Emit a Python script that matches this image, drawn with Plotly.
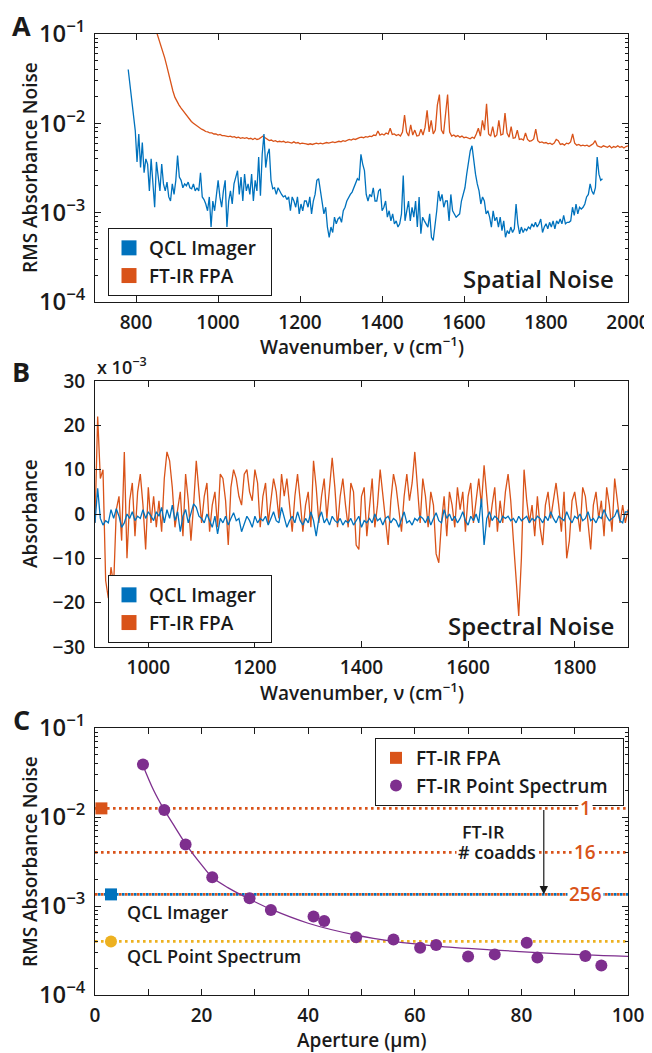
import numpy as np
import plotly.graph_objects as go

# ---------------- DATA ----------------
# Panel A: RMS absorbance noise (values in units of 1e-3)
qcl_spatial_start = 781.0     # cm^-1
qcl_spatial_step = 4.3        # cm^-1
qcl_spatial_noise = [
    40, 27, 16, 11,
    8.3, 3.7, 7.6, 3.2, 6.1, 2.8, 4.0, 3.5, 1.75, 4.0, 2.1, 1.15, 3.7, 2.5, 1.75, 3.5, 2.1, 1.75, 2.2, 1.5,
    1.35, 2.1, 1.6, 2.3, 4.35, 2.5, 2.3, 1.9, 2.1, 2.0, 2.2, 1.9, 1.85, 2.1, 1.75, 1.9, 1.75, 2.8, 1.5, 1.4,
    1.25, 1.05, 1.5, 0.69, 1.35, 1.05, 1.6, 2.3, 1.5, 1.15, 1.75, 2.3, 0.69, 1.35, 1.75, 1.25, 2.1, 2.5, 2.95, 1.6,
    2.5, 1.35, 2.7, 1.75, 2.1, 1.6, 2.7, 1.35, 2.3, 1.75, 4.2, 1.55, 4.5, 7.6, 3.2, 4.5, 5.2, 2.3, 1.85, 1.9,
    1.6, 1.9, 1.7, 1.6, 1.5, 1.55, 1.4, 1.5, 1.05, 1.5, 1.35, 1.15, 1.5, 0.97, 1.25, 1.05, 1.35, 1.35, 1.15, 1.5,
    0.97, 1.35, 1.6, 2.3, 2.4, 1.75, 1.35, 0.97, 1.15, 0.69, 0.53, 0.69, 0.60, 0.89, 0.75, 0.85, 0.89, 0.78, 1.05, 1.15,
    1.35, 1.5, 1.6, 1.7, 1.9, 2.1, 2.4, 2.3, 4.5, 3.5, 2.95, 1.6, 1.35, 1.6, 1.5, 1.9, 1.35, 1.35, 1.75, 1.85,
    1.05, 1.15, 1.35, 0.89, 1.05, 0.81, 0.97, 0.75, 0.81, 0.69, 0.75, 0.97, 2.6, 0.81, 1.05, 1.35, 0.81, 1.15, 0.89, 1.35,
    0.69, 1.5, 0.58, 0.89, 0.81, 0.75, 0.69, 0.97, 0.53, 0.49, 0.69, 1.05, 1.75, 1.35, 1.6, 1.15, 1.35, 1.35, 0.81, 1.6,
    1.05, 0.97, 0.89, 0.93, 0.97, 1.35, 1.6, 1.9, 2.7, 3.8, 4.9, 5.6, 3.8, 2.7, 2.1, 1.75, 1.25, 1.5, 1.35, 0.97,
    1.05, 0.89, 0.69, 1.05, 0.81, 0.89, 0.69, 0.89, 0.63, 0.81, 0.53, 0.63, 0.58, 0.69, 0.60, 0.66, 1.25, 0.75, 0.58, 0.69,
    0.60, 0.66, 0.63, 0.69, 0.66, 0.75, 0.69, 0.78, 0.69, 0.75, 0.85, 0.60, 0.69, 0.75, 0.66, 0.78, 0.69, 0.81, 0.66, 0.81,
    0.75, 0.85, 0.75, 0.93, 0.75, 0.78, 0.78, 0.81, 1.15, 0.93, 1.25, 0.97, 1.15, 1.1, 1.15, 1.25, 1.5, 1.6, 2.1, 1.75,
    1.6, 1.9, 4.2, 2.7, 2.3, 2.4,
]

fpa_spatial_start = 845.0
fpa_spatial_step = 5.0
fpa_spatial_noise = [
    125, 106, 92, 78, 64, 54, 44, 35, 28, 23,
    19.5, 17.5, 16, 14.8, 13.8, 12.8, 12.0, 11.3, 10.5, 10.0,
    9.6, 9.2, 8.9, 8.6, 8.4, 8.1, 8.0, 7.8, 7.8, 7.6,
    7.6, 7.4, 7.5, 7.3, 7.3, 7.2, 7.1, 7.2, 7.0, 7.1,
    6.9, 7.0, 6.8, 6.9, 6.8, 6.9, 6.7, 6.8, 6.6, 6.8,
    6.6, 6.7, 6.9, 7.2, 6.9, 6.6, 6.4, 6.5, 6.3, 6.4,
    6.2, 6.3, 6.2, 6.3, 6.1, 6.2, 6.1, 6.0, 6.2, 6.0,
    6.1, 5.9, 6.0, 6.0, 5.9, 5.8, 5.9, 5.8, 5.9, 6.0,
    5.9, 6.0, 5.9, 6.0, 6.1, 6.0, 6.1, 6.2, 6.1, 6.2,
    6.3, 6.2, 6.4, 6.3, 6.5, 6.6, 6.5, 6.7, 6.6, 6.8,
    6.9, 7.0, 6.9, 7.1, 7.0, 7.2, 7.1, 7.4, 7.3, 8.2,
    7.4, 7.6, 7.4, 7.8, 7.6, 8.8, 7.5, 7.6, 7.3, 7.5,
    7.2, 8.0, 12.4, 8.0, 7.2, 9.6, 7.4, 8.4, 7.2, 7.3,
    8.6, 7.4, 9.0, 14.0, 8.0, 10.8, 7.6, 8.4, 16.0, 21.0,
    8.4, 7.6, 14.0, 21.0, 8.0, 7.2, 7.4, 7.1, 7.3, 7.0,
    7.2, 6.9, 7.0, 6.8, 6.7, 7.0, 6.8, 7.6, 8.8, 7.2,
    10.8, 8.4, 16.5, 7.6, 7.2, 9.2, 7.0, 7.4, 10.8, 7.4,
    7.6, 13.0, 7.8, 7.0, 9.2, 6.8, 6.9, 8.4, 6.6, 6.7,
    6.5, 7.8, 6.6, 6.3, 6.4, 6.7, 8.6, 6.4, 6.1, 6.2,
    6.0, 6.1, 5.9, 6.0, 5.8, 6.0, 6.6, 6.4, 5.8, 5.9,
    5.7, 6.0, 5.9, 6.2, 7.6, 6.0, 5.7, 5.8, 5.6, 5.7,
    5.6, 5.7, 5.5, 5.7, 5.9, 6.4, 5.6, 5.5, 5.4, 5.6,
    5.5, 5.4, 5.6, 5.3, 5.5, 5.4, 5.6, 5.4, 5.5, 5.3,
    5.5, 5.6,
]

# Panel B: absorbance (units of 1e-3), 5 cm^-1 spacing from 900
spectral_start = 900.0
spectral_step = 5.0
qcl_spectral = [
    -2, 5.8, -1, -2.5, -1.5, -2, 1, -1, 1.2, -0.5, -3, -2, 0, -1, 0.5, -1.5, -0.5, -1, 1, -1,
    0.5, -0.5, -1.5, 0.5, -0.5, 1.5, -2, 1, -1, 2, -1.5, 0.5, -4, -0.5, 1, -2, 0.5, 2.3, 1.5, -0.5,
    -1, -2, 0, -1.5, -3, -0.5, -4.5, -1, -2, -0.5, -2.5, -1, 0.3, -1.5, -1, -4, -2, -0.5, -1.5, -3,
    -0.5, -2, -1, -1.5, -0.5, -2.5, -1, 0.5, -1.5, -2, 1.5, -1, -3, -1.5, -0.5, -2, 0.5, -1.5, -2.5, -1,
    -2, 0.5, -1.5, -5, -1, 0.5, -2, -1, -2.5, -0.5, -1.5, -2, -1, -2.5, -1.5, -2, -1, -2.5, -1.5, -0.5,
    -3, -1.5, -2, -1, -2, 0, -1.5, -1, -2.5, -1, -0.5, -2, -1, -1.5, -3, -1, 0.5, -2, -1.5, -2.5,
    -1, -1.5, -0.5, -1, -2, -0.5, -2.5, -1, 0.3, -1.5, -2, 1, -1, 0, -1.5, -0.5, -2, -1, 0.5, -1.5,
    -2.5, -0.5, -1.5, 0, -2, 3.5, -7, -1, 0.5, -1.5, -0.5, -1, -2, -0.5, -1, -0.5, -1.5, -1, -2, -0.5,
    -1.5, -1, -0.5, -2, -1, -1.5, -0.5, -1, -2, -0.5, -1.5, 0.5, -1, -2, -0.5, -1, -1.5, 0.5, -1, -2,
    -0.5, -1, 0, -1.5, -1, 0.5, -1.5, -1, -2, -0.5, -1, 1, -0.5, -1.5, -1, -0.5, 1, -1.5, -2, 0.5,
    0.5,
]
fpa_spectral = [
    -2, 22, 8, 10, -15, -19, -12, -16, 1, 4, -6, 14, -10, 3, 7, -5, 5, 9, 2, -8,
    6, -2, 4, -3, 3, -4, 8, 14, 12, 6, -3, 1, 5, -5, 9, 3, -6, 2, 12, 5,
    -2, 4, 7, -4, 2, 5, -3, 9, 8, 3, -7, 6, 10, 8, 4, 2, 9, 10, 5, 3,
    10, 7, -3, 4, 7, -2, 3, 8, 5, -1, 9, 4, 8, 2, -4, 4, 9, 3, -4, 2,
    5, -3, 12, 6, -2, 4, 8, -1, 5, 12.7, 6, -3, 4, 8, 2, -3, 7, 5, -7, -8,
    4, 6, -5, 2, 8, -3, 2, 10, 4, -2, -7, 3, 9, 6, 1, -4, 4, 9, 3, 7,
    14, 5, -2, 8, 4, -3, 5, 2, -9, -11, -2, 4, -5, 5, 2, -3, 6, 1, 5, -4,
    4, 7, -2, 3, 8, 2, 11, 4, -3, 2, 6, -4, 3, -2, 5, 9, 3, -6, -15, -23,
    -10, 10, 3, -2, 2, -5, 4, -3, -7, 2, 5, -1, 3, 7, 2, -4, 5, -10, -6, 3,
    5, 1, -4, 6, 4, -2, -8, 2, 5, -1, 3, -5, 6, 2, -4, 8, 3, -2, 2, -2,
    1,
]

# Panel C: RMS absorbance noise vs aperture
aperture_um = [9, 13, 17, 22, 29, 33, 41, 43, 49, 56, 61, 64, 70, 75, 81, 83, 92, 95]
point_spectrum_noise = [0.039, 0.012, 0.0049, 0.0021, 0.00122, 0.00090, 0.00076, 0.00068, 0.000445,
                        0.00042, 0.00034, 0.000365, 0.00027, 0.000286, 0.000387, 0.000263, 0.000275, 0.000214]
fit_aperture_um = [9, 11, 13, 15, 17, 20, 22, 25, 28, 33, 40, 49, 56, 64, 75, 83, 92, 100]
fit_noise = [0.038, 0.020, 0.0120, 0.0077, 0.0050, 0.0029, 0.0021, 0.0016, 0.00128, 0.00092,
             0.00064, 0.00047, 0.00040, 0.000355, 0.00032, 0.00030, 0.000282, 0.000272]
coadds = ["1", "16", "256"]
fpa_coadd_noise = [0.0125, 0.0040, 0.00135]
fpa_pixel_um = 1.2
fpa_single_noise = 0.0125
qcl_imager_um = 3
qcl_imager_noise = 0.00135
qcl_point_um = 3
qcl_point_noise = 0.00040

# ---------------- STYLE ----------------
BLUE = "#0072BD"
RED = "#D95319"
PURPLE = "#7E2F8E"
YELLOW = "#EDB120"
INK = "#1a1a1a"
FONT = "Open Sans"
OFF = 8                 # page body margin of the html page
W, H = 652 - OFF, 1053 - OFF
NBSP = "\u00a0"


def fx(px):
    return (px - OFF) / W


def fy(py):
    return 1 - (py - OFF) / H


XDOM = [fx(95), fx(628)]
YDOM_A = [fy(302), fy(34)]
YDOM_B = [fy(647), fy(381)]
YDOM_C = [fy(995), fy(728)]

fig = go.Figure()

qcl_wn = qcl_spatial_start + qcl_spatial_step * np.arange(len(qcl_spatial_noise))
fpa_wn = fpa_spatial_start + fpa_spatial_step * np.arange(len(fpa_spatial_noise))
spec_wn = spectral_start + spectral_step * np.arange(len(qcl_spectral))
spec_wn_fpa = spectral_start + spectral_step * np.arange(len(fpa_spectral))

# Panel A
fig.add_trace(go.Scatter(x=fpa_wn, y=np.array(fpa_spatial_noise) * 1e-3, mode="lines",
                         line=dict(color=RED, width=1.3), showlegend=False, xaxis="x", yaxis="y"))
fig.add_trace(go.Scatter(x=qcl_wn, y=np.array(qcl_spatial_noise) * 1e-3, mode="lines",
                         line=dict(color=BLUE, width=1.3), showlegend=False, xaxis="x", yaxis="y"))
for name, col in [("QCL Imager", BLUE), ("FT-IR FPA", RED)]:
    fig.add_trace(go.Scatter(x=[None], y=[None], mode="markers", name=name + NBSP * 2,
                             marker=dict(symbol="square", size=15, color=col),
                             xaxis="x", yaxis="y", legend="legend"))

# Panel B
fig.add_trace(go.Scatter(x=spec_wn_fpa, y=fpa_spectral, mode="lines",
                         line=dict(color=RED, width=1.3), showlegend=False, xaxis="x2", yaxis="y2"))
fig.add_trace(go.Scatter(x=spec_wn, y=qcl_spectral, mode="lines",
                         line=dict(color=BLUE, width=1.3), showlegend=False, xaxis="x2", yaxis="y2"))
for name, col in [("QCL Imager", BLUE), ("FT-IR FPA", RED)]:
    fig.add_trace(go.Scatter(x=[None], y=[None], mode="markers", name=name + NBSP * 2,
                             marker=dict(symbol="square", size=15, color=col),
                             xaxis="x2", yaxis="y2", legend="legend2"))

# Panel C
C_RANGE = [0, 100]
px_per_unit = (XDOM[1] - XDOM[0]) * W / (C_RANGE[1] - C_RANGE[0])
DOT = "2.6px,3.4px"
for lvl in fpa_coadd_noise:
    fig.add_trace(go.Scatter(x=C_RANGE, y=[lvl, lvl], mode="lines",
                             line=dict(color=RED, width=2.6, dash=DOT),
                             showlegend=False, xaxis="x3", yaxis="y3"))
# blue dotted line phase-shifted by half a dash period so dots interleave with red 256 line
fig.add_trace(go.Scatter(x=[C_RANGE[0] + 3 / px_per_unit, C_RANGE[1]], y=[qcl_imager_noise] * 2, mode="lines",
                         line=dict(color=BLUE, width=2.6, dash=DOT),
                         showlegend=False, xaxis="x3", yaxis="y3"))
fig.add_trace(go.Scatter(x=C_RANGE, y=[qcl_point_noise] * 2, mode="lines",
                         line=dict(color=YELLOW, width=2.6, dash=DOT),
                         showlegend=False, xaxis="x3", yaxis="y3"))
fig.add_trace(go.Scatter(x=fit_aperture_um, y=fit_noise, mode="lines",
                         line=dict(color=PURPLE, width=1.3, shape="spline", smoothing=1.0),
                         showlegend=False, xaxis="x3", yaxis="y3"))
fig.add_trace(go.Scatter(x=[fpa_pixel_um], y=[fpa_single_noise], mode="markers", name="FT-IR FPA",
                         marker=dict(symbol="square", size=12, color=RED),
                         xaxis="x3", yaxis="y3", legend="legend3"))
fig.add_trace(go.Scatter(x=aperture_um, y=point_spectrum_noise, mode="markers",
                         name="FT-IR Point Spectrum" + NBSP * 2,
                         marker=dict(symbol="circle", size=12, color=PURPLE),
                         xaxis="x3", yaxis="y3", legend="legend3"))
fig.add_trace(go.Scatter(x=[qcl_imager_um], y=[qcl_imager_noise], mode="markers",
                         marker=dict(symbol="square", size=12, color=BLUE),
                         showlegend=False, xaxis="x3", yaxis="y3"))
fig.add_trace(go.Scatter(x=[qcl_point_um], y=[qcl_point_noise], mode="markers",
                         marker=dict(symbol="circle", size=12, color=YELLOW),
                         showlegend=False, xaxis="x3", yaxis="y3"))

# ---------------- AXES ----------------
tickfont = dict(family=FONT, size=19, color=INK, weight=600)


def axis(**kw):
    base = dict(showline=True, linecolor=INK, linewidth=1, mirror="allticks", ticks="inside",
                ticklen=6, tickwidth=1, tickcolor=INK, showgrid=False, zeroline=False,
                tickfont=tickfont, automargin=False)
    base.update(kw)
    return base


log_minor = dict(ticks="inside", ticklen=3, tickcolor=INK, dtick="D1", showgrid=False)

fig.update_layout(
    xaxis=axis(domain=XDOM, anchor="y", range=[700, 2000], tick0=0, dtick=200, ticklabelstandoff=3),
    yaxis=axis(domain=YDOM_A, anchor="x", type="log", range=[-4, -1], dtick=1,
               exponentformat="power", minor=log_minor, ticklabelstandoff=5),
    xaxis2=axis(domain=XDOM, anchor="y2", range=[900, 1900], tick0=0, dtick=200, ticklabelstandoff=3),
    yaxis2=axis(domain=YDOM_B, anchor="x2", range=[-30, 30], dtick=10, ticklabelstandoff=5),
    xaxis3=axis(domain=XDOM, anchor="y3", range=C_RANGE, dtick=20,
                minor=dict(ticks="inside", ticklen=6, tickcolor=INK, dtick=10, showgrid=False),
                ticklabelstandoff=3),
    yaxis3=axis(domain=YDOM_C, anchor="x3", type="log", range=[-4, -1], dtick=1,
                exponentformat="power", minor=log_minor, ticklabelstandoff=5),
)

legend_common = dict(xanchor="left", yanchor="top", bgcolor="white", bordercolor=INK, borderwidth=1,
                     font=dict(family=FONT, size=19, color=INK, weight=600), itemsizing="trace",
                     tracegroupgap=0)
fig.update_layout(
    legend=dict(x=fx(108), y=fy(228), **legend_common),
    legend2=dict(x=fx(108), y=fy(575), **legend_common),
    legend3=dict(x=fx(375), y=fy(738), **legend_common),
)

# ---------------- TEXT ----------------
ann = []


def label(text, x, y, size=18, xanchor="center", yanchor="middle", angle=0, color=INK, weight=600, **kw):
    d = dict(text=text, x=fx(x), y=fy(y), xref="paper", yref="paper", xanchor=xanchor, yanchor=yanchor,
             showarrow=False, textangle=angle,
             font=dict(family=FONT, size=size, color=color, weight=weight))
    d.update(kw)
    ann.append(d)


for letter, ypx in [("A", 25), ("B", 372), ("C", 719)]:
    label(letter, 21, ypx, size=27, weight=700)

label("Wavenumber, ν (cm<sup>−1</sup>)", 362, 346, size=19)
label("Wavenumber, ν (cm<sup>−1</sup>)", 362, 692, size=19)
label("Aperture (µm)", 362, 1040, size=19)
label("RMS Absorbance Noise", 30, 168, size=19, angle=-90)
label("Absorbance", 30, 514, size=19, angle=-90)
label("RMS Absorbance Noise", 30, 862, size=19, angle=-90)
label("x 10<sup>−3</sup>", 95, 366, xanchor="left")
label("Spatial Noise", 616, 278, size=24, xanchor="right")
label("Spectral Noise", 616, 625, size=24, xanchor="right")


def dlabel(text, x, y, size=18, xanchor="center", color=INK, bg=None):
    d = dict(text=text, x=x, y=np.log10(y), xref="x3", yref="y3", xanchor=xanchor, yanchor="middle",
             showarrow=False, font=dict(family=FONT, size=size, color=color, weight=600))
    if bg:
        d.update(bgcolor=bg, borderpad=1)
    ann.append(d)


for c, lvl in zip(coadds, fpa_coadd_noise):
    dlabel(c, 92, lvl, size=19, color=RED, bg="white")
dlabel("FT-IR", 72.8, 10 ** -2.165)
dlabel("# coadds", 75.4, fpa_coadd_noise[1], bg="white")
dlabel("QCL Imager", 5.6, 10 ** -3.067, xanchor="left")
dlabel("QCL Point Spectrum", 5.6, 10 ** -3.562, xanchor="left")

ann.append(dict(x=84.2, y=np.log10(fpa_coadd_noise[2]), ax=84.2, ay=np.log10(fpa_coadd_noise[0]),
                xref="x3", yref="y3", axref="x3", ayref="y3", text="", showarrow=True,
                arrowhead=2, arrowsize=1.4, arrowwidth=1.2, arrowcolor=INK, standoff=0))

fig.update_layout(annotations=ann, width=W, height=H, margin=dict(l=0, r=0, t=0, b=0),
                  paper_bgcolor="white", plot_bgcolor="white", font=dict(family=FONT, color=INK))

fig.write_html("out.html")
